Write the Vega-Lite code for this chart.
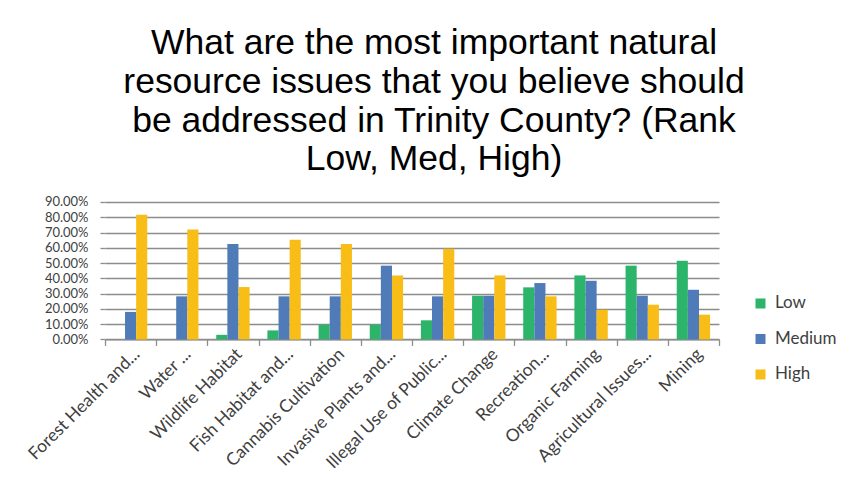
{
  "$schema": "https://vega.github.io/schema/vega-lite/v6.json",
  "width": 614,
  "height": 137.4,
  "autosize": {"type": "none"},
  "padding": {"left": 105, "top": 202, "right": 137, "bottom": 149},
  "background": "#ffffff",
  "title": {
    "text": ["What are the most important natural", "resource issues that you believe should", "be addressed in Trinity County? (Rank", "Low, Med, High)"],
    "font": "Liberation Sans",
    "fontSize": 35.5,
    "fontWeight": "normal",
    "lineHeight": 38.7,
    "color": "#000000",
    "anchor": "middle",
    "dx": 22,
    "offset": 18
  },
  "data": {
    "values": [
      {"issue": "Forest Health and...", "rank": "Low", "pct": 0},
      {"issue": "Forest Health and...", "rank": "Medium", "pct": 0.18},
      {"issue": "Forest Health and...", "rank": "High", "pct": 0.817},
      {"issue": "Water ...", "rank": "Low", "pct": 0},
      {"issue": "Water ...", "rank": "Medium", "pct": 0.282},
      {"issue": "Water ...", "rank": "High", "pct": 0.72},
      {"issue": "Wildlife Habitat", "rank": "Low", "pct": 0.03},
      {"issue": "Wildlife Habitat", "rank": "Medium", "pct": 0.625},
      {"issue": "Wildlife Habitat", "rank": "High", "pct": 0.343},
      {"issue": "Fish Habitat and...", "rank": "Low", "pct": 0.059},
      {"issue": "Fish Habitat and...", "rank": "Medium", "pct": 0.282},
      {"issue": "Fish Habitat and...", "rank": "High", "pct": 0.653},
      {"issue": "Cannabis Cultivation", "rank": "Low", "pct": 0.096},
      {"issue": "Cannabis Cultivation", "rank": "Medium", "pct": 0.282},
      {"issue": "Cannabis Cultivation", "rank": "High", "pct": 0.625},
      {"issue": "Invasive Plants and...", "rank": "Low", "pct": 0.096},
      {"issue": "Invasive Plants and...", "rank": "Medium", "pct": 0.483},
      {"issue": "Invasive Plants and...", "rank": "High", "pct": 0.419},
      {"issue": "Illegal Use of Public...", "rank": "Low", "pct": 0.125},
      {"issue": "Illegal Use of Public...", "rank": "Medium", "pct": 0.282},
      {"issue": "Illegal Use of Public...", "rank": "High", "pct": 0.594},
      {"issue": "Climate Change", "rank": "Low", "pct": 0.286},
      {"issue": "Climate Change", "rank": "Medium", "pct": 0.286},
      {"issue": "Climate Change", "rank": "High", "pct": 0.419},
      {"issue": "Recreation...", "rank": "Low", "pct": 0.341},
      {"issue": "Recreation...", "rank": "Medium", "pct": 0.369},
      {"issue": "Recreation...", "rank": "High", "pct": 0.282},
      {"issue": "Organic Farming", "rank": "Low", "pct": 0.419},
      {"issue": "Organic Farming", "rank": "Medium", "pct": 0.384},
      {"issue": "Organic Farming", "rank": "High", "pct": 0.194},
      {"issue": "Agricultural Issues...", "rank": "Low", "pct": 0.483},
      {"issue": "Agricultural Issues...", "rank": "Medium", "pct": 0.286},
      {"issue": "Agricultural Issues...", "rank": "High", "pct": 0.227},
      {"issue": "Mining", "rank": "Low", "pct": 0.515},
      {"issue": "Mining", "rank": "Medium", "pct": 0.325},
      {"issue": "Mining", "rank": "High", "pct": 0.162}
    ]
  },
  "mark": {"type": "bar"},
  "encoding": {
    "x": {
      "field": "issue",
      "type": "nominal",
      "sort": null,
      "scale": {"paddingInner": 0, "paddingOuter": 0},
      "axis": {
        "title": null,
        "labelAngle": -45,
        "labelAlign": "right",
        "labelBaseline": "middle",
        "labelFont": "Lato",
        "labelFontSize": 17.5,
        "labelColor": "#404040",
        "labelPadding": 6,
        "labelOffset": 6,
        "labelLimit": 300,
        "labelOverlap": false,
        "tickBand": "extent",
        "ticks": true,
        "tickSize": 6,
        "tickColor": "#8c8c8c",
        "tickWidth": 1.3,
        "domainColor": "#8c8c8c",
        "domainWidth": 1.3,
        "grid": false
      }
    },
    "xOffset": {
      "field": "rank",
      "type": "nominal",
      "sort": ["Low", "Medium", "High"],
      "scale": {"paddingInner": 0, "paddingOuter": 0.8}
    },
    "y": {
      "field": "pct",
      "type": "quantitative",
      "scale": {"domain": [0, 0.9], "nice": false},
      "axis": {
        "title": null,
        "format": ".2%",
        "values": [0, 0.1, 0.2, 0.3, 0.4, 0.5, 0.6, 0.7, 0.8, 0.9],
        "labelOverlap": false,
        "labelFont": "Lato",
        "labelFontSize": 13,
        "labelColor": "#404040",
        "labelPadding": 12,
        "domain": false,
        "ticks": true,
        "tickSize": 5,
        "tickColor": "#8c8c8c",
        "tickWidth": 1.3,
        "grid": true,
        "gridColor": "#8c8c8c",
        "gridWidth": 1.3
      }
    },
    "color": {
      "field": "rank",
      "type": "nominal",
      "sort": ["Low", "Medium", "High"],
      "scale": {"domain": ["Low", "Medium", "High"], "range": ["#2DB46B", "#4F7CB8", "#F8BD16"]},
      "legend": {
        "title": null,
        "orient": "none",
        "legendX": 647,
        "legendY": 93,
        "padding": 0,
        "symbolType": "square",
        "symbolSize": 100,
        "symbolStrokeWidth": 0,
        "labelFont": "Lato",
        "labelFontSize": 17,
        "labelColor": "#404040",
        "labelOffset": 6,
        "rowPadding": 17.5
      }
    }
  },
  "config": {
    "view": {"stroke": null}
  }
}
